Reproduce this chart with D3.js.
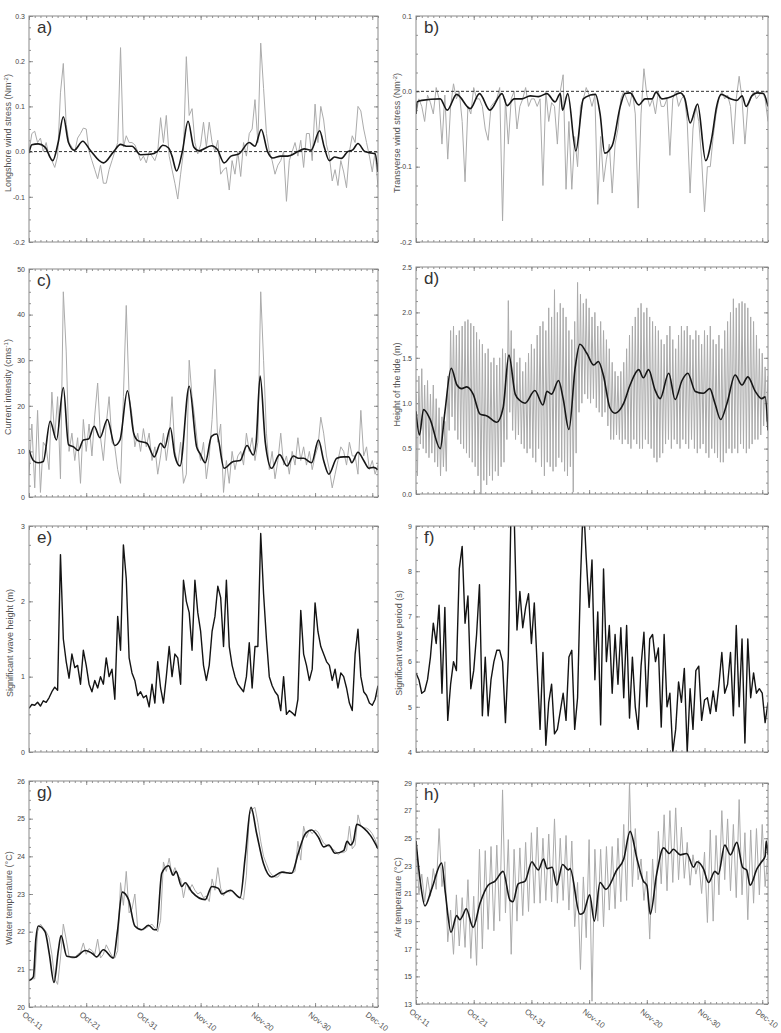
<!DOCTYPE html>
<html><head><meta charset="utf-8">
<script src="https://cdn.jsdelivr.net/npm/d3@7"></script>
<style>
body{margin:0;background:#fff}
svg{display:block}
text{font-family:Arial,"Liberation Sans",sans-serif}
</style>
</head><body>
<svg id="chart" width="781" height="1033"></svg>
<script>
// ---------- DATA ----------
const dayCount = 61; // Oct-11 .. Dec-11
const dateTickDays = [0,10,20,30,40,50,60];
const dateTickLabels = ["Oct-11","Oct-21","Oct-31","Nov-10","Nov-20","Nov-30","Dec-10"];

// y tick values and labels
const aTicks = [-0.2,-0.1,0,0.1,0.2,0.3], aTickLabels = ["-0.2","-0.1","0.0","0.1","0.2","0.3"];
const bTicks = [-0.2,-0.1,0,0.1], bTickLabels = ["-0.2","-0.1","0.0","0.1"];
const cTicks = [0,10,20,30,40,50], cTickLabels = ["0","10","20","30","40","50"];
const dTicks = [0,0.5,1,1.5,2,2.5], dTickLabels = ["0.0","0.5","1.0","1.5","2.0","2.5"];
const eTicks = [0,1,2,3], eTickLabels = ["0","1","2","3"];
const fTicks = [4,5,6,7,8,9], fTickLabels = ["4","5","6","7","8","9"];
const gTicks = [20,21,22,23,24,25,26], gTickLabels = ["20","21","22","23","24","25","26"];
const hTicks = [13,15,17,19,21,23,25,27,29], hTickLabels = ["13","15","17","19","21","23","25","27","29"];

// a) longshore wind stress, raw (every half day) and filtered ([day, value])
const aRaw = [0.0,0.04, 0.045,0.02, 0.03,0.0, 0.02,-0.01, -0.02,-0.035, -0.01,0.13, 0.195,0.06, 0.02,0.01, 0.0,0.03, 0.04,0.052, 0.05,0.0, -0.02,-0.04, -0.06,-0.03, -0.07,-0.07, -0.04,-0.02, 0.0,0.02, 0.23,0.01, 0.035,0.02, 0.02,0.015, 0.0,-0.02, -0.01,-0.025, 0.0,-0.01, -0.02,0.0, 0.075,0.02, 0.08,-0.01, -0.04,-0.07, -0.105,-0.05, 0.0,0.21, 0.08,0.095, 0.02,-0.005, 0.015,0.065, 0.01,0.065, 0.02,0.0, 0.025,-0.05, -0.04,-0.035, -0.085,-0.02, -0.05,0.0, -0.055,0.02, -0.01,0.04, 0.05,0.115, 0.02,0.24, 0.14,0.04, 0.0,-0.02, -0.05,-0.03, -0.02,0.0, -0.11,-0.02, 0.0,0.02, -0.01,0.025, -0.035,0.04, 0.04,-0.02, 0.105,0.02, 0.1,0.07, 0.015,-0.01, -0.065,-0.04, -0.075,-0.02, -0.045,-0.08, 0.0,0.035, 0.02,0.1, 0.09,0.05, 0.02,-0.01, -0.045,0.0, -0.08];
const aSmooth = [[0,-0.003],[0.5,0.015],[1.6,0.017],[2.8,0.01],[4.15,-0.02],[5.1,0.02],[6,0.077],[6.9,0.02],[7.9,0.003],[9.4,0.023],[10.7,0.003],[13,-0.025],[14.8,0],[16,0.016],[17,0.012],[18,0.012],[19.5,-0.007],[21.2,-0.006],[22.4,0],[23.4,0.014],[24.4,0.008],[25,-0.01],[25.8,-0.043],[26.8,0],[27.8,0.067],[28.8,0.01],[29.7,0.002],[31.9,0.013],[32.9,0.005],[34.1,-0.025],[35.3,-0.01],[36.7,-0.005],[38.5,0.02],[39.5,0.012],[40.6,0.049],[41.7,0],[42.6,-0.014],[44,-0.01],[45.2,-0.01],[47,0],[48.1,0.006],[49.3,0.003],[50.8,0.046],[51.6,0.01],[52.5,-0.02],[53.4,-0.012],[54.6,-0.015],[55.7,0],[56.6,0.004],[57.5,0.018],[58.7,0],[59.8,-0.003],[60.5,-0.005],[61,-0.045]];

// b) transverse wind stress
const bRaw = [-0.03,-0.01, -0.02,-0.04, -0.005,-0.015, -0.03,0.005, -0.01,-0.07, -0.005,-0.09, -0.02,0.01, -0.01,0.0, -0.04,-0.12, -0.02,-0.03, 0.005,-0.01, -0.01,-0.02, -0.05,-0.065, -0.02,-0.015, -0.01,0.005, -0.172,-0.01, -0.07,-0.01, 0.0,-0.05, -0.02,-0.01, 0.005,-0.02, -0.01,-0.01, -0.02,-0.01, -0.125,0.0, -0.04,-0.015, -0.02,-0.07, 0.0,0.022, -0.13,-0.04, -0.13,-0.06, -0.10,-0.02, -0.01,0.005, -0.005,-0.02, -0.005,-0.15, -0.06,-0.12, -0.09,-0.07, -0.135,-0.07, -0.05,-0.01, 0.0,-0.01, -0.02,0.0, -0.03,-0.155, -0.03,0.03, -0.005,-0.02, -0.01,-0.03, 0.0,-0.02, -0.02,-0.01, -0.085,-0.01, 0.0,-0.02, -0.01,-0.005, -0.04,-0.135, -0.05,-0.02, -0.04,-0.09, -0.16,-0.10, -0.10,-0.06, -0.03,-0.01, 0.0,-0.01, -0.005,-0.02, -0.07,-0.01, 0.02,-0.01, -0.07,-0.02, -0.01,0.0, -0.01,-0.005, 0.0,-0.01, -0.04];
const bSmooth = [[0,-0.03],[0.2,-0.014],[1,-0.012],[4.2,-0.01],[5.4,-0.025],[7.05,-0.004],[9.4,-0.023],[11,-0.003],[12.8,-0.025],[14.9,-0.003],[15.8,-0.019],[17,-0.01],[18.3,-0.01],[19.8,-0.006],[21.2,-0.007],[22.7,-0.003],[24.1,-0.014],[25,-0.003],[25.4,-0.025],[26.3,-0.003],[27.7,-0.079],[29,-0.01],[30.2,-0.005],[31.1,-0.004],[31.9,-0.03],[32.7,-0.082],[34,-0.072],[35.4,-0.02],[36.2,-0.003],[37.1,-0.002],[38.6,-0.018],[39.7,-0.01],[40.9,-0.01],[41.6,-0.001],[42.6,-0.01],[44.3,-0.007],[45.8,-0.002],[46.6,-0.01],[47.5,-0.042],[48.8,-0.017],[50.2,-0.092],[51.3,-0.06],[52.1,-0.02],[52.9,-0.004],[54.5,-0.01],[55.6,-0.012],[56.5,-0.006],[57.2,-0.02],[58.2,-0.006],[59.1,-0.002],[60.2,-0.003],[61,-0.02]];

// c) current intensity
const cRaw = [5,16, 2,19, 1,12, 11,6, 23,13, 22,4, 45,32, 10,14, 8,13, 3,17, 10,16, 9,18, 25,13, 8,16, 22,12, 11,6, 3,22, 42,22, 18,11, 14,10, 15,11, 14,8, 11,5, 9,14, 8,13, 22,10, 7,12, 3,5, 30,22, 17,11, 8,12, 4,9, 17,28, 12,16, 1,8, 3,10, 6,9, 10,7, 14,10, 13,8, 12,45, 30,14, 6,10, 4,8, 14,7, 9,5, 10,7, 13,8, 11,7, 10,6, 9,11, 17.5,14, 9,6, 2,5, 8,11, 10,7, 12,9, 9,5, 19,9, 11,6, 8,5, 7];
const cSmooth = [[0,10.3],[0.76,8],[1.6,7.5],[2.5,7.8],[3.7,16.6],[4.8,12.5],[6,24],[6.9,11.5],[7.8,11],[8.6,10.2],[9.5,12.5],[10.4,12.7],[11.4,15.5],[12.4,13],[13.7,17],[15,11.3],[15.9,12.5],[17.2,23.3],[18.3,14],[19.1,12.3],[20.6,11.8],[21.9,8.8],[23,11.8],[23.7,10.8],[24.7,15.2],[25.5,9],[26.4,6.8],[28,24.3],[29.3,11],[29.9,9.5],[30.8,7.5],[31.9,13.3],[32.8,13.8],[34.1,6.3],[35.7,7.8],[36.9,8],[38.1,11.3],[39.2,9.2],[39.7,12],[40.4,26.5],[41.3,12],[42.4,6.3],[43.8,9.3],[45.1,6.8],[46.2,9],[47.1,8.5],[48,8.5],[49.4,7.5],[50.6,12.5],[51.5,8],[52.4,5],[53.8,8.5],[55,8.8],[55.9,8.8],[56.4,7.5],[57.5,9.8],[58.5,8],[59.4,6.3],[60.2,6.5],[61,6]];

// d) tide height: high waters (every half day) and low waters (between them)
const tideHigh = [1.1,1.3, 1.38,1.2, 1.25,1.1, 1.2,1.05, 0.95,0.85, 0.8,1.3, 1.8,1.85, 1.75,1.8, 1.85,1.9, 1.92,1.88, 1.85,1.78, 1.7,1.65, 1.55,1.6, 1.45,1.5, 1.42,1.5, 1.6,1.55, 2.13,1.8, 1.6,1.45, 1.5,1.35, 1.45,1.55, 1.65,1.6, 1.75,1.85, 1.9,1.8, 2.05,1.95, 2.25,2.0, 2.1,2.05, 1.95,1.8, 1.7,1.9, 2.33,2.2, 2.1,2.15, 2.05,1.95, 2.0,1.85, 1.9,1.8, 1.7,1.6, 1.45,1.35, 1.3,1.35, 1.45,1.6, 1.75,1.85, 1.95,2.05, 2.1,2.0, 2.05,1.95, 1.9,1.85, 1.8,1.7, 1.65,1.75, 1.85,1.7, 1.6,1.75, 1.85,1.8, 1.85,1.75, 1.7,1.8, 1.75,1.65, 1.8,1.75, 1.85,1.7, 1.65,1.75, 1.6,1.8, 1.9,2.0, 2.15,2.05, 2.1,2.12, 2.1,2.05, 1.95,1.9, 1.75,1.6, 1.55,1.4, 1.3];
const tideLow = [0.2,0.55, 0.5,0.45, 0.4,0.45, 0.35,0.3, 0.2,0.3, 0.25,0.7, 0.85,0.7, 0.6,0.55, 0.5,0.45, 0.4,0.35, 0.3,0.2, 0.0,0.15, 0.1,0.2, 0.15,0.25, 0.2,0.3, 0.35,0.6, 0.9,0.7, 0.6,0.65, 0.55,0.5, 0.45,0.5, 0.4,0.35, 0.5,0.3, 0.2,0.35, 0.3,0.25, 0.3,0.4, 0.35,0.25, 0.2,0.3, 0.02,0.45, 0.9,1.0, 1.1,1.05, 1.0,1.05, 0.95,0.9, 0.85,0.9, 0.75,0.6, 0.6,0.65, 0.6,0.55, 0.6,0.55, 0.5,0.6, 0.55,0.5, 0.5,0.6, 0.55,0.5, 0.4,0.35, 0.4,0.45, 0.55,0.6, 0.5,0.6, 0.55,0.5, 0.6,0.55, 0.5,0.6, 0.5,0.45, 0.5,0.55, 0.45,0.4, 0.5,0.45, 0.4,0.35, 0.35,0.45, 0.5,0.45, 0.5,0.45, 0.55,0.5, 0.45,0.5, 0.55,0.6, 0.6,0.65, 0.75,0.8];
const dSmooth = [[0,0.91],[0.6,0.65],[1.3,0.93],[2.4,0.83],[4.2,0.5],[5,0.9],[6.1,1.385],[7.1,1.2],[7.9,1.16],[8.8,1.18],[9.9,1.1],[11.1,0.88],[12.3,0.86],[14,0.79],[15.1,0.95],[16.1,1.53],[17.2,1.1],[18,1.03],[18.9,1.0],[20.6,1.14],[22,0.98],[22.7,1.13],[23.5,1.1],[24.7,1.25],[25.5,1.05],[26.5,0.71],[27.6,1.4],[28.4,1.65],[29.6,1.55],[30.8,1.42],[31.6,1.46],[32.5,1.3],[33.6,0.95],[34.5,0.89],[36,1.0],[37.1,1.2],[38.6,1.37],[39.4,1.28],[40.3,1.37],[41.4,1.15],[42.3,1.05],[43.8,1.33],[44.9,1.04],[46.1,1.25],[47.1,1.33],[48.4,1.13],[49.8,1.11],[50.9,1.16],[51.8,1.0],[52.8,0.82],[53.9,1.0],[55.3,1.31],[56.5,1.2],[57.5,1.29],[58.8,1.13],[59.9,1.05],[60.5,1.07],[61,0.7]];

// e) significant wave height (every half day)
const eSeries = [0.58,0.63, 0.62,0.66, 0.61,0.68, 0.66,0.72, 0.8,0.86, 0.82,2.62, 1.5,1.2, 0.98,1.3, 1.12,1.15, 0.9,1.35, 1.15,0.9, 0.8,0.95, 0.85,1.0, 0.9,1.25, 1.0,1.1, 0.7,1.8, 1.35,2.75, 2.3,1.25, 1.05,0.95, 0.75,0.8, 0.72,0.75, 0.6,0.9, 0.65,1.2, 0.85,0.65, 1.0,1.4, 1.0,1.3, 1.25,0.9, 2.28,2.0, 1.85,1.35, 2.28,1.85, 1.6,1.15, 0.95,1.15, 1.6,1.8, 2.2,2.05, 1.4,2.28, 1.4,1.15, 1.0,0.9, 0.85,0.8, 1.0,1.45, 0.85,1.4, 1.4,2.9, 2.1,1.5, 1.0,0.88, 0.8,0.75, 0.55,1.0, 0.5,0.55, 0.52,0.48, 0.7,1.88, 1.3,1.15, 0.95,1.1, 1.98,1.6, 1.4,1.3, 1.2,1.15, 0.95,1.1, 0.85,1.05, 1.0,0.85, 0.65,0.55, 1.3,1.63, 1.0,0.8, 0.75,0.65, 0.62,0.7, 0.88];

// f) significant wave period (every half day)
const fSeries = [5.75,5.6, 5.3,5.35, 5.6,6.1, 6.85,6.4, 7.25,5.3, 7.2,4.7, 5.5,6.0, 5.8,8.05, 8.55,6.85, 7.45,5.4, 5.8,6.6, 7.7,4.8, 6.1,4.8, 5.6,6.0, 6.25,6.25, 6.0,4.65, 6.1,9.6, 9.3,6.7, 7.55,6.75, 7.2,7.5, 6.4,7.3, 5.9,4.5, 6.2,4.15, 5.1,5.5, 4.4,4.5, 4.9,5.3, 4.7,6.1, 6.25,4.5, 5.2,7.8, 9.6,8.3, 7.2,8.25, 5.6,7.1, 4.6,8.05, 6.0,6.8, 5.3,6.6, 5.5,6.75, 5.2,6.8, 4.75,6.1, 5.0,4.5, 5.9,6.65, 5.0,6.5, 6.6,6.0, 6.3,4.55, 6.6,5.0, 5.3,4.0, 4.5,5.55, 5.1,5.85, 4.0,5.4, 4.5,5.8, 5.9,4.7, 5.15,5.2, 4.85,5.35, 4.9,5.5, 6.2,5.3, 5.5,6.2, 4.8,6.8, 5.0,6.5, 4.2,6.5, 5.2,5.75, 5.3,5.4, 5.3,4.65, 5.1];

// g) water temperature
const gRaw = [20.7,20.75, 20.75,22.0, 22.2,22.1, 22.0,21.85, 21.4,20.75, 20.6,21.3, 22.2,21.8, 21.35,21.3, 21.3,21.4, 21.45,21.7, 21.4,21.55, 21.5,21.4, 21.8,21.3, 21.4,21.65, 21.5,21.35, 21.3,21.5, 23.3,22.7, 23.6,22.5, 22.6,23.0, 22.1,22.05, 22.05,22.1, 22.15,22.2, 22.1,22.0, 22.3,23.85, 23.6,23.95, 23.5,23.7, 23.5,23.4, 22.9,23.3, 23.1,23.25, 23.1,23.0, 23.05,22.9, 22.95,22.8, 23.4,23.1, 23.7,23.15, 22.95,23.1, 23.05,23.1, 23.0,22.95, 22.9,22.85, 23.5,25.1, 25.25,25.3, 24.9,24.4, 24.0,23.8, 23.6,23.5, 23.45,23.45, 23.55,23.6, 23.55,23.58, 23.55,23.6, 24.4,23.9, 24.8,24.5, 24.7,24.6, 24.7,24.65, 24.5,24.35, 24.3,24.25, 24.2,24.15, 24.05,24.1, 24.1,24.15, 24.8,24.2, 24.3,25.1, 24.8,24.75, 24.75,24.7, 24.6,24.45, 24.2];
const gSmooth = [[0,20.7],[0.76,20.8],[1.2,21.8],[1.63,22.15],[2.8,22.0],[3.56,21.4],[4.37,20.65],[5.13,21.5],[5.6,21.9],[6.6,21.35],[8.05,21.32],[9.8,21.5],[11.25,21.4],[11.8,21.33],[13,21.52],[14.75,21.3],[15.45,22.0],[16.3,23.05],[17.4,22.85],[18.5,22.15],[19.7,22.05],[20.9,22.17],[21.9,22.05],[22.3,22.05],[23.2,23.55],[24.4,23.75],[25.2,23.5],[25.7,23.6],[26.7,23.2],[27.3,23.3],[28.5,23.05],[30.8,22.85],[31.95,23.2],[33.1,23.15],[33.7,23.0],[35.2,23.1],[36.9,22.9],[37.8,24.0],[38.8,25.3],[39.8,24.6],[41,23.8],[42.4,23.45],[44.2,23.58],[45.9,23.55],[47.1,24.1],[48.3,24.6],[49.4,24.7],[50.6,24.5],[51.5,24.25],[52.4,24.3],[53.5,24.08],[55,24.15],[55.6,24.4],[56.2,24.3],[56.7,24.4],[57.3,24.85],[58.5,24.75],[59.7,24.55],[61,24.2]];

// h) air temperature: daily maxima (at each day) and minima (mid-day between)
const hHigh = [24.8,22.4,22.2,22.8,25.7,23.3,19.8,20.9,20.7,22.0,20.8,24.2,24.1,24.4,24.5,28.5,24.9,24.2,24.3,24.7,25.4,25.8,25.0,25.3,26.4,25.0,25.2,24.8,21.8,22.2,24.9,24.2,24.2,24.4,24.4,25.0,26.0,29.0,25.7,23.5,22.6,23.5,25.5,26.7,27.0,27.2,25.8,24.7,23.8,23.4,24.0,25.6,25.2,27.0,26.4,26.0,27.8,25.4,25.6,25.7,26.0,24.0];
const hLow = [21.0,20.4,20.8,21.3,21.5,17.5,16.6,17.2,17.1,16.3,15.8,17.0,18.4,18.3,19.0,19.6,16.6,19.0,19.4,19.7,20.3,20.3,20.5,20.4,20.3,20.5,19.8,18.6,15.5,17.8,13.2,19.0,18.6,19.8,19.9,20.4,20.5,21.5,22.0,20.5,17.7,19.6,21.7,21.2,21.8,22.0,22.1,21.6,22.4,21.0,18.9,19.0,20.9,22.0,21.2,20.7,20.9,19.1,20.3,20.9,21.5];
const hSmooth = [[0,24.8],[0.7,22],[1.56,20.1],[2.7,21.3],[4.45,23.2],[5.1,21.0],[6.07,18.2],[7.05,19.4],[7.6,19.1],[8.1,19.4],[8.7,19.9],[9.9,18.55],[11.1,20.3],[12.5,21.6],[13.7,21.9],[15.1,22.6],[16.3,20.5],[16.8,20.4],[17.7,21.7],[18.9,21.9],[20.1,23.3],[20.6,23.0],[21.2,22.7],[22.1,23.5],[22.7,22.8],[23.6,22.9],[24.4,21.6],[25.4,23.1],[26.4,22.7],[26.7,22.8],[28.4,19.5],[29,19.6],[30.1,20.9],[30.9,19.0],[31.9,21.8],[32.9,21.3],[34.8,22.7],[36,23.5],[37.1,25.5],[38.3,23.5],[39.4,21.9],[40,21.6],[40.6,19.5],[41.7,22.4],[42.9,24.3],[43.9,23.9],[44.6,24.2],[45.8,23.8],[46.9,23.9],[48.1,22.9],[48.7,23.3],[49.8,22.8],[50.7,21.8],[51.8,22.6],[52.4,22.4],[53.5,24.5],[54.5,23.8],[55.6,24.7],[56.6,22.9],[57.3,22.7],[57.9,21.6],[59.1,22.8],[59.9,23.3],[60.5,23.7],[60.7,24.8],[61,23.8]];

// ---------- HELPERS ----------
const halfDay = arr => arr.map((v,i) => [i*0.5, v]);
function interleave(hi, lo, step, loOffset){
  const out = [];
  hi.forEach((v,i) => { out.push([i*step, v]); if (i < lo.length) out.push([i*step + loOffset, lo[i]]); });
  return out;
}

const panels = [
  {key:"a", L:29, R:378, T:16, B:242, dom:[-0.2,0.3], ticks:aTicks, labels:aTickLabels, sub:4,
   title:["Longshore wind stress (Nm","-2",")"], tx:11, raw:halfDay(aRaw), smooth:aSmooth, zero:true},
  {key:"b", L:416, R:768, T:16, B:242, dom:[-0.2,0.1], ticks:bTicks, labels:bTickLabels, sub:4,
   title:["Transverse wind stress (Nm","-2",")"], tx:400, raw:halfDay(bRaw), smooth:bSmooth, zero:true},
  {key:"c", L:29, R:378, T:269, B:497, dom:[0,50], ticks:cTicks, labels:cTickLabels, sub:4,
   title:["Current intensity (cms","-1",")"], tx:11, raw:halfDay(cRaw), smooth:cSmooth},
  {key:"d", L:416, R:768, T:267, B:494, dom:[0,2.5], ticks:dTicks, labels:dTickLabels, sub:4,
   title:["Height of the tide (m)"], tx:400, raw:interleave(tideHigh, tideLow, 0.5, 0.25), smooth:dSmooth},
  {key:"e", L:29, R:378, T:526, B:752, dom:[0,3], ticks:eTicks, labels:eTickLabels, sub:4,
   title:["Significant wave height (m)"], tx:13, main:halfDay(eSeries)},
  {key:"f", L:416, R:768, T:526, B:752, dom:[4,9], ticks:fTicks, labels:fTickLabels, sub:4,
   title:["Significant wave period (s)"], tx:402, main:halfDay(fSeries)},
  {key:"g", L:29, R:378, T:781, B:1007, dom:[20,26], ticks:gTicks, labels:gTickLabels, sub:4,
   title:["Water temperature (°C)"], tx:12, raw:halfDay(gRaw), smooth:gSmooth, dates:true},
  {key:"h", L:416, R:768, T:783, B:1004, dom:[13,29], ticks:hTicks, labels:hTickLabels, sub:4,
   title:["Air temperature (°C)"], tx:401, raw:interleave(hHigh, hLow, 1, 0.5), smooth:hSmooth, dates:true}
];

const svg = d3.select("#chart");
const defs = svg.append("defs");
const AXIS = "#8a8a8a";

function styleAxis(sel){
  sel.select(".domain").remove();
  sel.selectAll(".tick line").attr("stroke", "#777").attr("stroke-width", 0.8);
  sel.selectAll(".tick text").attr("fill", "#444").attr("font-size", 7);
}

panels.forEach(p => {
  const x = d3.scaleLinear().domain([0, dayCount]).range([p.L, p.R]);
  const y = d3.scaleLinear().domain(p.dom).range([p.B, p.T]);
  const g = svg.append("g");

  defs.append("clipPath").attr("id", "clip-" + p.key)
    .append("rect").attr("x", p.L).attr("y", p.T).attr("width", p.R - p.L).attr("height", p.B - p.T);

  // minor ticks
  const step = (p.ticks[1] - p.ticks[0]) / p.sub;
  const minorY = d3.range(p.dom[0], p.dom[1] + step/2, step);
  const minorX = d3.range(0, dayCount + 0.5, 1);
  const add = (axis, tr) => g.append("g").attr("transform", tr).call(axis).call(styleAxis);

  add(d3.axisBottom(x).tickValues(minorX).tickSize(-2).tickFormat(""), `translate(0,${p.B})`);
  add(d3.axisTop(x).tickValues(minorX).tickSize(-2).tickFormat(""), `translate(0,${p.T})`);
  add(d3.axisTop(x).tickValues(dateTickDays).tickSize(-4).tickFormat(""), `translate(0,${p.T})`);
  add(d3.axisLeft(y).tickValues(minorY).tickSize(-2).tickFormat(""), `translate(${p.L},0)`);
  add(d3.axisRight(y).tickValues(minorY).tickSize(-2).tickFormat(""), `translate(${p.R},0)`);
  add(d3.axisRight(y).tickValues(p.ticks).tickSize(-4).tickFormat(""), `translate(${p.R},0)`);
  add(d3.axisLeft(y).tickValues(p.ticks).tickSize(-4).tickPadding(4)
        .tickFormat((d,i) => p.labels[i]), `translate(${p.L},0)`);

  const xb = add(d3.axisBottom(x).tickValues(dateTickDays).tickSize(-4)
        .tickFormat((d,i) => p.dates ? dateTickLabels[i] : ""), `translate(0,${p.B})`);
  if (p.dates){
    xb.selectAll(".tick text")
      .attr("x", 0).attr("y", 0).attr("dy", "0.75em")
      .attr("text-anchor", "start").attr("font-size", 8).attr("fill", "#555")
      .attr("transform", "translate(-4,4) rotate(38)");
  }

  const plot = g.append("g").attr("clip-path", `url(#clip-${p.key})`);
  if (p.raw){
    plot.append("path").datum(p.raw)
      .attr("fill", "none").attr("stroke", "#ababab").attr("stroke-width", 1)
      .attr("d", d3.line().x(d => x(d[0])).y(d => y(d[1])));
  }
  if (p.zero){
    plot.append("line").attr("x1", p.L).attr("x2", p.R).attr("y1", y(0)).attr("y2", y(0))
      .attr("stroke", "#333").attr("stroke-width", 1).attr("stroke-dasharray", "3,2");
  }
  if (p.smooth){
    plot.append("path").datum(p.smooth)
      .attr("fill", "none").attr("stroke", "#161616").attr("stroke-width", 1.6)
      .attr("d", d3.line().x(d => x(d[0])).y(d => y(d[1])).curve(d3.curveMonotoneX));
  }
  if (p.main){
    plot.append("path").datum(p.main)
      .attr("fill", "none").attr("stroke", "#141414").attr("stroke-width", 1.4)
      .attr("stroke-linejoin", "round")
      .attr("d", d3.line().x(d => x(d[0])).y(d => y(d[1])));
  }

  // frame
  g.append("rect").attr("x", p.L).attr("y", p.T).attr("width", p.R - p.L).attr("height", p.B - p.T)
    .attr("fill", "none").attr("stroke", AXIS).attr("stroke-width", 1);

  // panel letter
  g.append("text").attr("x", p.L + 8).attr("y", p.T + 17).attr("font-size", 17).attr("fill", "#333")
    .text(p.key + ")");

  // y title
  const cy = (p.T + p.B) / 2 + 4;
  const t = g.append("text").attr("transform", `translate(${p.tx},${cy}) rotate(-90)`)
    .attr("text-anchor", "middle").attr("font-size", 9).attr("fill", "#555");
  t.append("tspan").text(p.title[0]);
  if (p.title.length > 1){
    t.append("tspan").attr("font-size", 6).attr("dy", -3).text(p.title[1]);
    t.append("tspan").attr("dy", 3).text(p.title[2]);
  }
});
</script>
</body></html>
